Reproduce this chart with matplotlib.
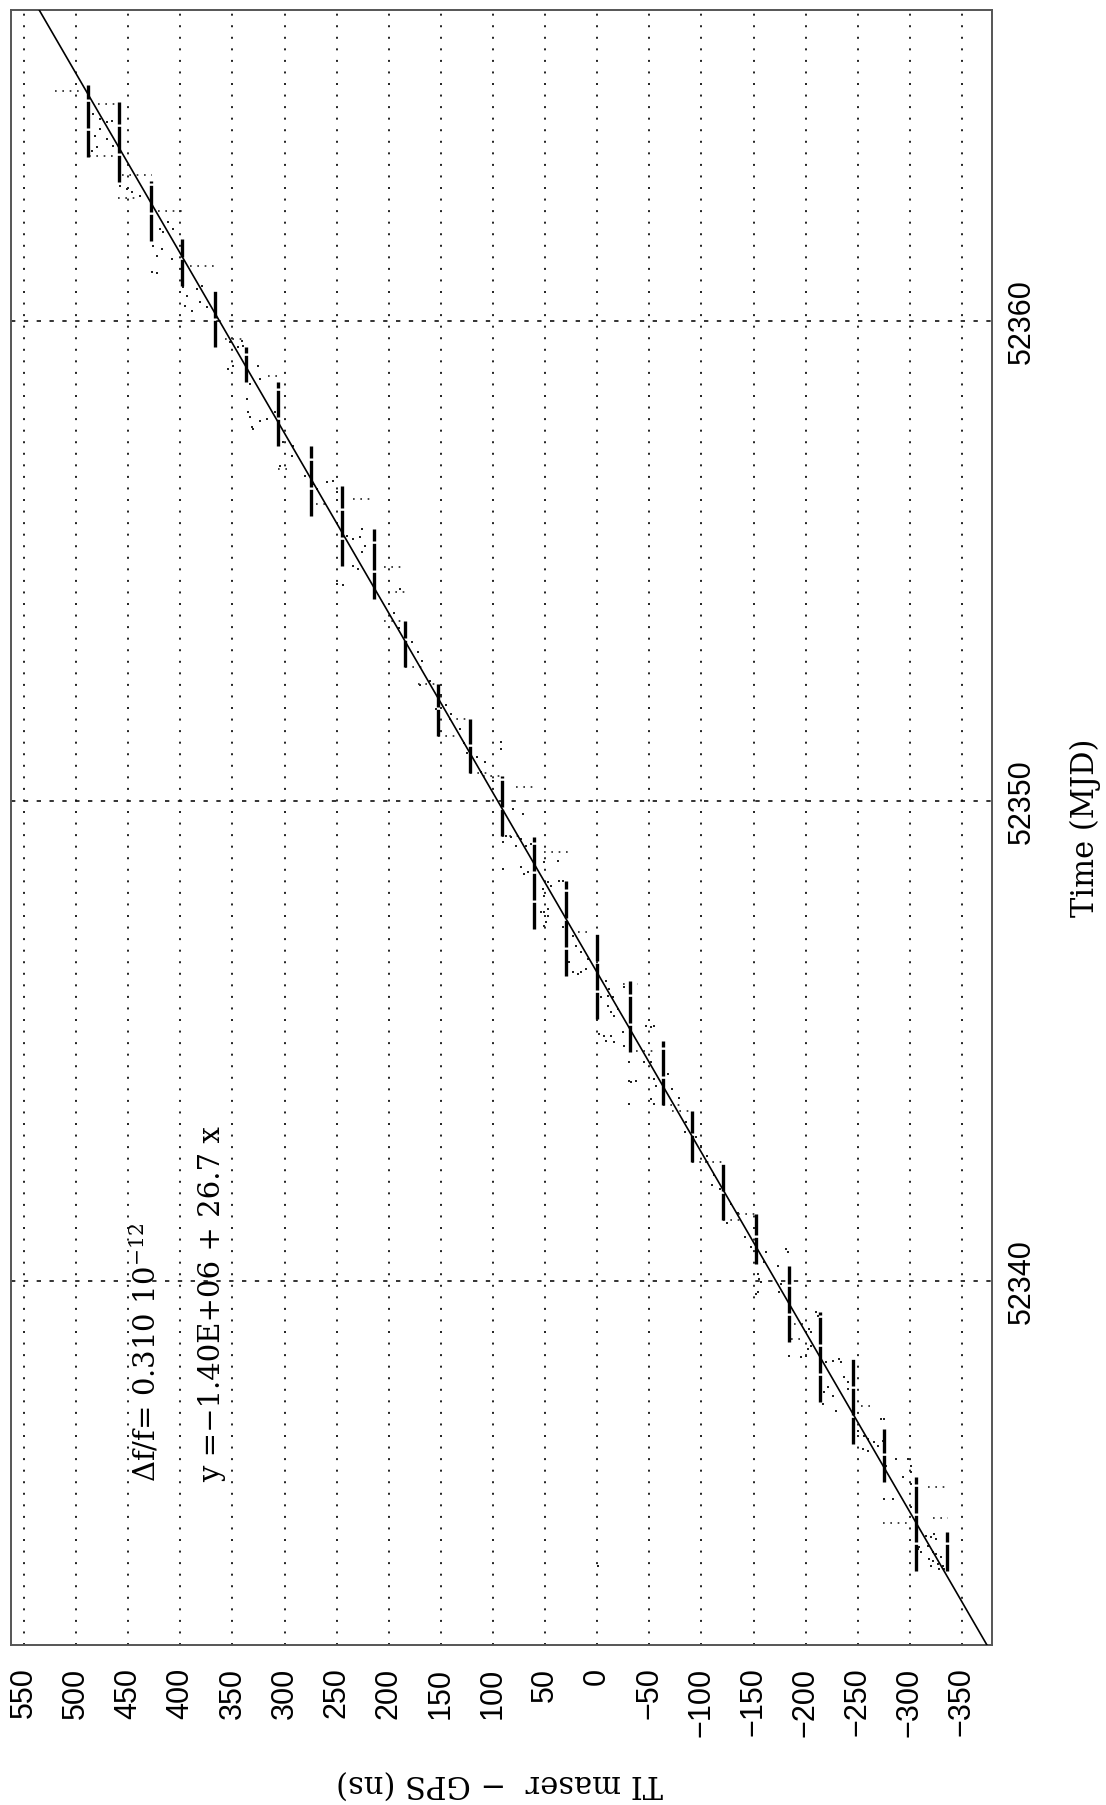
import matplotlib.pyplot as plt
import numpy as np

plt.rcParams['mathtext.fontset'] = 'dejavuserif'

# fit: ns = intercept + slope * MJD
fit_slope = 26.7
fit_intercept = -1397649.3

ns_ticks = [550, 500, 450, 400, 350, 300, 250, 200, 150, 100, 50, 0,
            -50, -100, -150, -200, -250, -300, -350]
mjd_ticks = [52340, 52350, 52360]

# dense runs of points (vertical bars)
bar_ns = [489, 459, 428, 398, 367, 337, 306, 275, 245, 214, 184, 153, 122, 91,
          61, 30, 0, -31, -63, -91, -121, -152, -184, -214, -245, -275, -306, -336]
bar_t_top = [52364.91, 52364.56, 52362.91, 52361.70, 52360.66, 52359.45, 52358.72,
             52357.39, 52356.56, 52355.66, 52353.74, 52352.43, 52351.70, 52350.51,
             52349.24, 52348.33, 52347.22, 52346.24, 52344.99, 52343.54, 52342.47,
             52341.39, 52340.31, 52339.35, 52338.37, 52336.91, 52335.91, 52334.76]
bar_t_bot = [52363.41, 52362.89, 52361.66, 52360.72, 52359.45, 52358.72, 52357.39,
             52355.93, 52354.89, 52354.20, 52352.78, 52351.34, 52350.58, 52349.26,
             52347.33, 52346.35, 52345.45, 52344.76, 52343.66, 52342.47, 52341.26,
             52340.35, 52338.72, 52337.47, 52336.60, 52335.81, 52333.95, 52333.95]

# rows of points at one epoch
row_t = [52364.78, 52363.43, 52364.51, 52363.03, 52362.55, 52362.28, 52361.14,
         52359.62, 52358.85, 52356.91, 52356.18, 52356.28, 52354.87, 52354.35,
         52350.28, 52348.93, 52347.26, 52346.18, 52344.78, 52338.78, 52339.10,
         52337.39, 52335.70, 52334.95, 52335.05,
         52353.74, 52352.78, 52352.43, 52351.34, 52351.70, 52350.58, 52350.51,
         52349.26, 52343.66, 52343.54, 52342.47, 52342.47, 52341.26, 52341.39]
row_ns0 = [520, 488, 479, 456, 460, 421, 391, 357, 316, 306, 270, 234, 205, 201,
           78, 51, 18, -25, -37, -186, -189, -253, -317, -274, -322,
           205, 184, 172, 153, 142, 122, 110, 91, -63, -72, -91, -103, -121, -135]
row_ns1 = [494, 463, 460, 427, 439, 398, 367, 338, 307, 297, 256, 215, 184, 184,
           61, 28, 6, -39, -58, -196, -200, -263, -338, -301, -337,
           184, 165, 153, 135, 122, 104, 91, 72, -80, -91, -108, -121, -139, -152]

# scattered single points
pt_ns = [483.7, 477.0, 470.3, 465.5, 477.0, 481.8, 470.3, 464.5, 479.9, 484.7,
         457.8, 451.0, 446.3, 438.5, 411.7, 406.9, 419.3, 416.5, 426.1, 417.4,
         422.2, 407.8, 427.0, 422.2, 397.3, 383.8, 379.0, 393.4, 395.3, 388.6,
         381.0, 374.2, 339.6, 352.1, 344.4, 340.6, 354.1, 349.2, 325.2, 332.9,
         323.3, 335.8, 334.8, 332.9, 331.0, 330.0, 323.3, 316.6, 308.9, 304.1,
         292.5, 291.6, 301.2, 280.1, 272.4, 268.5, 258.9, 253.2, 249.3, 239.7,
         233.9, 227.2, 225.3, 222.4, 225.3, 233.9, 229.1, 249.3, 243.5, 188.8,
         92.8, 92.8, 81.2, 71.6, 87.9, 83.1, 78.3, 73.5, 68.7, 63.9,
         90.8, 90.8, 73.5, 70.6, 66.8, 37.9, 51.4, 47.6, 37.0, 33.2,
         52.4, 51.4, 44.7, 51.4, 47.6, 49.5, 51.4, 33.2, 27.4, 23.6,
         18.8, 15.9, 11.1, 9.2, 15.9, 20.7, 23.6, -8.1, -10.0, -14.8,
         -25.4, 54.3, 47.6, -3.3, -11.0, -10.0, -12.9, -15.8, -19.6, -1.4,
         -6.2, -8.1, -12.9, -15.8, -24.5, -25.4, -30.2, -30.2, -32.1, -36.9,
         -30.2, -46.5, -51.3, -54.2, -44.6, -51.3, -54.2, -56.1, -51.3, -54.2,
         -154.1, -155.1, -157.0, -154.1, -152.2, -159.9, -173.3, -161.8, -181.0, -183.0,
         -174.3, -176.2, -183.9, -195.4, -200.2, -203.1, -205.0, -202.2, -205.0, -209.8,
         -211.8, -219.4, -226.2, -231.9, -233.9, -221.4, -226.2, -229.0, -216.6, -217.5,
         -236.7, -240.6, -240.6, -250.2, -255.9, -259.8, -255.0, -259.8, -265.6, -269.4,
         -274.2, -272.3, -275.2, -277.1, -286.7, -293.4, -298.2, -301.1, -301.1, -275.2,
         -283.8, -301.1, -315.5, -320.3, -323.2, -325.1, -317.4, -322.2, -325.1, -318.4,
         -322.2, -320.3, -327.0, -329.9, -331.9, -328.0, -332.8, -308.8, -310.7, -307.8,
         -301.1, -0.4,
         195, 190, 178, 172, 168, 160, 150, 145, 140, 132,
         128, 115, 108, 100, 170, 155, 125, 112,
         -68, -72, -78, -85, -95, -100, -105, -112, -118, -128,
         -135, -142, -148, -84, -110, -125]
pt_t = [52364.30, 52364.20, 52364.14, 52364.16, 52363.99, 52363.85, 52363.78, 52363.64, 52363.62, 52363.53,
        52362.80, 52362.74, 52362.68, 52362.60, 52362.05, 52361.91, 52361.91, 52361.85, 52361.55, 52361.49,
        52361.35, 52361.28, 52361.01, 52360.99, 52360.70, 52360.66, 52360.72, 52360.51, 52360.30, 52360.20,
        52360.39, 52360.28, 52359.47, 52359.55, 52359.45, 52359.58, 52358.99, 52359.05, 52359.05, 52358.68,
        52358.78, 52358.37, 52358.10, 52357.99, 52357.78, 52357.74, 52357.91, 52357.95, 52358.10, 52356.97,
        52357.18, 52357.39, 52357.47, 52356.76, 52356.60, 52356.49, 52356.64, 52356.66, 52356.43, 52355.51,
        52355.45, 52355.49, 52355.66, 52355.30, 52355.18, 52354.89, 52354.83, 52354.51, 52354.49, 52354.41,
        52351.22, 52351.08, 52349.83, 52349.72, 52349.26, 52349.24, 52349.05, 52349.20, 52349.05, 52349.10,
        52349.14, 52348.58, 52348.62, 52348.47, 52348.51, 52348.74, 52348.72, 52348.30, 52348.33, 52348.33,
        52348.16, 52348.01, 52348.22, 52347.68, 52347.60, 52347.47, 52347.39, 52347.37, 52346.64, 52346.43,
        52346.39, 52346.43, 52346.49, 52346.70, 52346.85, 52346.97, 52347.18, 52346.24, 52345.93, 52345.91,
        52346.12, 52347.68, 52347.74, 52345.91, 52346.08, 52345.72, 52345.60, 52345.51, 52345.66, 52345.14,
        52345.10, 52344.99, 52345.10, 52344.97, 52345.18, 52344.89, 52344.55, 52344.16, 52344.14, 52344.16,
        52343.68, 52345.30, 52345.28, 52345.30, 52344.55, 52344.55, 52344.20, 52344.05, 52343.78, 52343.68,
        52340.14, 52340.03, 52339.97, 52339.76, 52339.72, 52340.39, 52340.30, 52340.60, 52340.66, 52340.60,
        52339.76, 52339.93, 52338.43, 52338.41, 52338.43, 52338.99, 52338.93, 52338.58, 52338.64, 52339.35,
        52339.26, 52338.30, 52338.33, 52338.37, 52338.30, 52337.78, 52337.60, 52337.28, 52337.43, 52337.68,
        52337.99, 52337.74, 52337.89, 52336.87, 52336.76, 52336.70, 52336.49, 52336.45, 52336.64, 52336.55,
        52336.66, 52337.12, 52337.12, 52336.14, 52336.28, 52335.91, 52336.28, 52336.14, 52336.01, 52335.45,
        52335.45, 52335.76, 52334.68, 52334.66, 52334.72, 52334.62, 52334.47, 52334.35, 52334.30, 52334.20,
        52334.16, 52334.05, 52334.10, 52334.24, 52334.05, 52333.99, 52333.99, 52334.45, 52334.35, 52334.41,
        52335.28, 52334.05,
        52353.90, 52353.60, 52353.30, 52353.10, 52352.90, 52352.50, 52352.20, 52352.00, 52351.80, 52351.50,
        52351.20, 52350.90, 52350.80, 52350.40, 52352.40, 52351.90, 52351.00, 52350.60,
        52344.30, 52344.00, 52343.80, 52343.30, 52343.00, 52342.80, 52342.60, 52342.20, 52341.90, 52341.60,
        52341.40, 52340.90, 52340.70, 52343.10, 52342.00, 52341.20]

fig = plt.figure(figsize=(11.06, 18.06), dpi=100)
ax = fig.add_axes([11 / 1106, 1 - 1646 / 1806, 981 / 1106, 1635 / 1806])

ax.set_xlim(562.5, -378.8)
ax.set_ylim(52332.41, 52366.47)

for v in ns_ticks:
    ax.axvline(v, color='#111111', lw=1.3, ls=(0, (1.1, 5.3)), zorder=1)
for v in mjd_ticks:
    ax.axhline(v, color='#111111', lw=1.2, ls=(0, (2.6, 5.1)), zorder=1)

ax.vlines(bar_ns, bar_t_bot, bar_t_top, color='black', lw=2.4,
          linestyles=(0, (8, 0.7)), zorder=3)
for t, a, b in zip(row_t, row_ns0, row_ns1):
    ax.plot([a, b], [t, t], color='#222222', lw=1.2, ls=(0, (1, 3.4)), zorder=2)
ax.plot(pt_ns, pt_t, 's', ms=1.8, mew=0, color='#222222', zorder=2)

t_line = np.array(ax.get_ylim())
ax.plot(fit_intercept + fit_slope * t_line, t_line, color='black', lw=1.2, zorder=4)

ax.set_xticks(ns_ticks)
ax.set_xticklabels([str(v) if v >= 0 else '\u2212' + str(-v) for v in ns_ticks],
                   family='Liberation Sans', fontsize=22)
ax.tick_params(axis='x', length=0, pad=15.5, labelrotation=90)
ax.yaxis.tick_right()
ax.set_yticks(mjd_ticks)
ax.set_yticklabels([str(v) for v in mjd_ticks], family='Liberation Sans', fontsize=22,
                   rotation=90, va='center')
ax.tick_params(axis='y', length=0, pad=11)

for s in ax.spines.values():
    s.set_color('#555555')
    s.set_linewidth(1.4)

# annotation texts, anchored at the start of their baselines
ax.text(424.2, 52335.83, r'$\Delta$f/f= 0.310 10$^{-12}$', family='DejaVu Serif',
        fontsize=21, rotation=90, rotation_mode='anchor', ha='left', va='baseline')
ax.text(361.7, 52335.83, 'y =\u22121.40E+06 + 26.7 x', family='DejaVu Serif',
        fontsize=21, rotation=90, rotation_mode='anchor', ha='left', va='baseline')

fig.text(1085 / 1106, 1 - 828 / 1806, 'Time (MJD)', family='DejaVu Serif',
         fontsize=22, rotation=90, ha='center', va='center')
fig.text(500 / 1106, 1 - 1783 / 1806, 'TI maser  \u2212 GPS (ns)', family='DejaVu Serif',
         fontsize=22, rotation=180, ha='center', va='center')

fig.savefig('out.png', dpi=100)
